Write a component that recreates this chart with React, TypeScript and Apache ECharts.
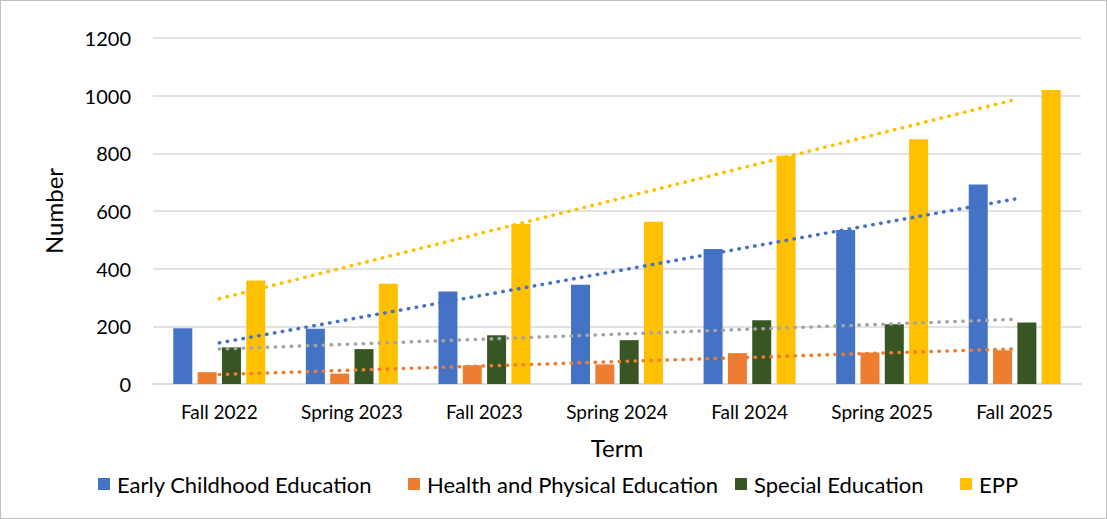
import React, { useEffect, useRef } from "react";
import * as echarts from "echarts";

const categories = ["Fall 2022", "Spring 2023", "Fall 2023", "Spring 2024", "Fall 2024", "Spring 2025", "Fall 2025"];
const earlyChildhood = [193, 192, 321, 344, 468, 534, 692];
const healthPE = [41, 36, 65, 68, 107, 109, 117];
const specialEd = [127, 121, 169, 152, 221, 207, 213];
const epp = [359, 348, 555, 563, 792, 849, 1020];
const yTicks = [0, 200, 400, 600, 800, 1000, 1200];

const seriesNames = ["Early Childhood Education", "Health and Physical Education", "Special Education", "EPP"];
const barColors = ["#4472C4", "#ED7D31", "#375623", "#FFC000"];
const trendColors = ["#4472C4", "#ED7D31", "#A5A5A5", "#FFC000"];
const legendLefts = [97, 407, 734, 959];

function linearTrend(vals: number[]): number[] {
  const n = vals.length;
  const mx = (n - 1) / 2;
  const my = vals.reduce((a, b) => a + b, 0) / n;
  let num = 0, den = 0;
  vals.forEach((v, i) => { num += (i - mx) * (v - my); den += (i - mx) * (i - mx); });
  const slope = num / den;
  return vals.map((_, i) => +(my + slope * (i - mx)).toFixed(2));
}

const FONT = "Lato, 'Open Sans', sans-serif";

export default function App() {
  const ref = useRef<HTMLDivElement>(null);
  useEffect(() => {
    if (!ref.current) return;
    const chart = echarts.init(ref.current, undefined, { renderer: "svg" });
    const data = [earlyChildhood, healthPE, specialEd, epp];
    const bars = data.map((d, i) => ({
      name: seriesNames[i],
      type: "bar",
      data: d,
      barWidth: 19,
      barGap: "28%",
      itemStyle: { color: barColors[i] },
      z: 2,
    }));
    const trends = data.map((d, i) => ({
      name: seriesNames[i] + " trend",
      type: "line",
      data: linearTrend(d),
      symbol: "none",
      lineStyle: { color: trendColors[i], width: 3.5, type: [0.5, 7.5], cap: "round" },
      z: 5,
      silent: true,
    }));
    const legends = seriesNames.map((nm, i) => ({
      data: [nm],
      top: 472,
      left: legendLefts[i],
      padding: 0,
      itemWidth: 12,
      itemHeight: 12,
      itemGap: 0,
      icon: "rect",
      textStyle: { fontSize: 22, color: "#000", fontFamily: FONT, padding: [0, 0, 0, 2] },
    }));
    chart.setOption({
      animation: false,
      textStyle: { fontFamily: FONT },
      grid: { left: 152, right: 25, top: 37, bottom: 134 },
      legend: legends,
      xAxis: {
        type: "category",
        data: categories,
        name: "Term",
        nameLocation: "middle",
        nameGap: 51,
        nameTextStyle: { fontSize: 24, color: "#000", fontFamily: FONT },
        axisTick: { show: false },
        axisLine: { lineStyle: { color: "#d9d9d9", width: 1.5 } },
        axisLabel: { fontSize: 19, color: "#000", margin: 18, fontFamily: FONT },
      },
      yAxis: {
        type: "value",
        min: 0,
        max: 1200,
        interval: 200,
        name: "Number",
        nameLocation: "middle",
        nameGap: 88,
        nameTextStyle: { fontSize: 24, color: "#000", fontFamily: FONT },
        axisLabel: { fontSize: 20, color: "#000", margin: 22, fontFamily: FONT, formatter: (v: number) => (yTicks.includes(v) ? String(v) : "") },
        splitLine: { lineStyle: { color: "#d9d9d9", width: 1.5 } },
        axisLine: { show: false },
        axisTick: { show: false },
      },
      series: [...bars, ...trends],
    });
    return () => chart.dispose();
  }, []);
  return (
    <div
      ref={ref}
      style={{ position: "fixed", left: 0, top: 0, width: 1107, height: 519, boxSizing: "border-box", border: "1px solid #bfbfbf", background: "#fff" }}
    />
  );
}
